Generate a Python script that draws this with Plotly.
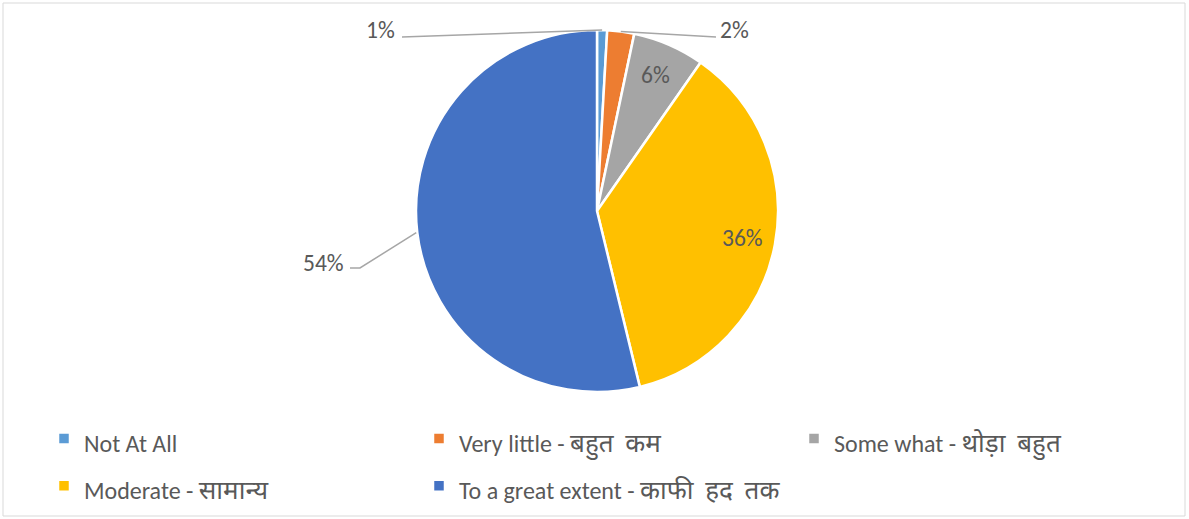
import math
import plotly.graph_objects as go

# ---- data ----
labels = ["Not At All", "Very little - बहुत  कम", "Some what - थोड़ा  बहुत",
          "Moderate - सामान्य", "To a great extent - काफी  हद  तक"]
values = [0.9, 2.4, 6.4, 36.5, 53.8]
colors = ["#5B9BD5", "#ED7D31", "#A5A5A5", "#FFC000", "#4472C4"]
label_side = ["out_left", "out_right", "in", "in", "out_left"]

W, H = 1189, 519
FONT = "Calibri, Carlito, Lato, 'Noto Sans', sans-serif"
TXT = "#595959"
LEG_SIZE = 24
DEV_SIZE = 26
PCT_SIZE = 23.5

# pie geometry (pixels)
cx, cy, r = 597, 211, 181


def px(x):
    return x / W


def py(y):
    return 1 - y / H


def legend_label(t):
    if " - " in t:
        en, hi = t.split(" - ", 1)
        return (f"<span style='font-size:{LEG_SIZE}px'>{en} - </span>"
                f"<span style='font-size:{DEV_SIZE}px'>{hi}</span>")
    return f"<span style='font-size:{LEG_SIZE}px'>{t}</span>"


legend_text = [legend_label(t) for t in labels]

fig = go.Figure(go.Pie(
    labels=legend_text, values=values, sort=False, direction="clockwise", rotation=0,
    marker=dict(colors=colors, line=dict(color="white", width=2.5)),
    textinfo="none", hoverinfo="label+percent",
    domain=dict(x=[px(cx - (W - cx)), 1], y=[py(cy + r), py(cy - r)]),
    showlegend=True,
))

total = sum(values)
cum = 0.0
annotations = []
shapes = []
for i, v in enumerate(values):
    mid = (cum + v / 2) / total * 2 * math.pi
    cum += v
    pct = f"{round(v / total * 100)}%"
    s, c = math.sin(mid), -math.cos(mid)
    if label_side[i] == "in":
        rr = 0.82 * r
        annotations.append(dict(x=px(cx + rr * s), y=py(cy + rr * c), xref="paper", yref="paper",
                                xanchor="center", yanchor="middle",
                                text=pct, showarrow=False, font=dict(size=PCT_SIZE, color=TXT, family=FONT)))
    else:
        ex, ey = cx + r * s, cy + r * c
        if i == 0:
            pts = [(ex, ey), (402, 37)]
            tx, ty, anchor = 397, 30, "right"
        elif i == 1:
            pts = [(ex, ey), (716, 37)]
            tx, ty, anchor = 718, 30, "left"
        else:
            pts = [(ex - 1, ey), (360, 268), (350, 268)]
            tx, ty, anchor = 346, 263, "right"
        path = "M " + " L ".join(f"{px(a)},{py(b)}" for a, b in pts)
        shapes.append(dict(type="path", path=path, xref="paper", yref="paper",
                           line=dict(color="#A6A6A6", width=1.5)))
        annotations.append(dict(x=px(tx), y=py(ty), xref="paper", yref="paper",
                                xanchor=anchor, yanchor="middle",
                                text=pct, showarrow=False, font=dict(size=PCT_SIZE, color=TXT, family=FONT)))

shapes.append(dict(type="rect", xref="paper", yref="paper", x0=px(3), x1=px(1185), y0=py(516), y1=py(3),
                   line=dict(color="#D9D9D9", width=1)))

fig.update_layout(
    width=W, height=H, margin=dict(l=0, r=0, t=0, b=0),
    paper_bgcolor="white", plot_bgcolor="white",
    font=dict(family=FONT, color=TXT, size=LEG_SIZE),
    shapes=shapes, annotations=annotations,
    legend=dict(orientation="h", x=px(44), y=py(410), xanchor="left", yanchor="top",
                entrywidth=330, entrywidthmode="pixels", traceorder="normal",
                font=dict(size=34, color=TXT, family=FONT), bgcolor="rgba(0,0,0,0)"),
)

fig.write_html("out.html", config={"displayModeBar": False},
               post_script="document.body.style.margin='0px';")
